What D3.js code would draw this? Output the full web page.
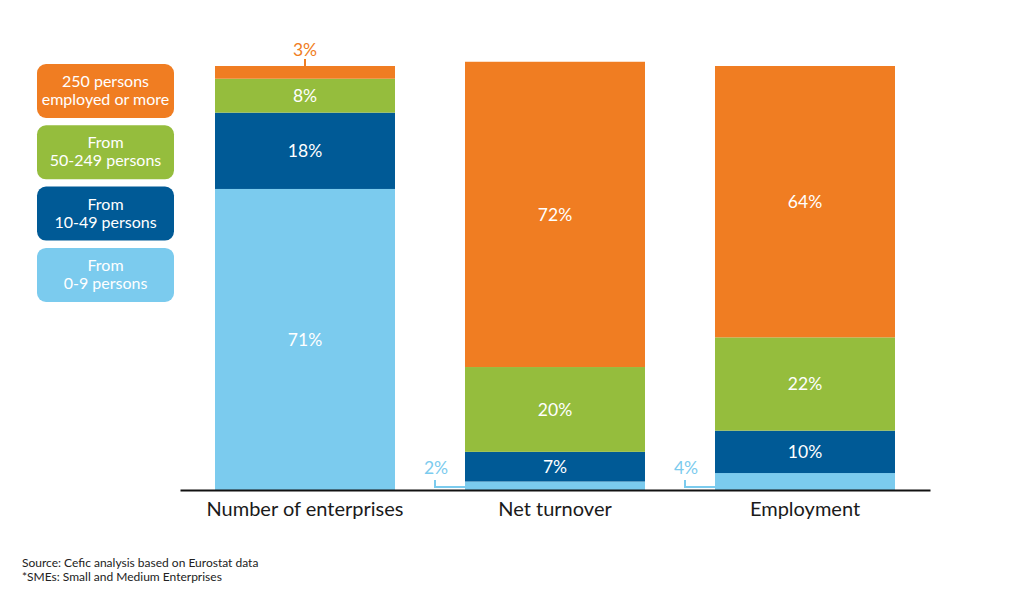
<!DOCTYPE html>
<html>
<head>
<meta charset="utf-8">
<script src="https://cdn.jsdelivr.net/npm/d3@7"></script>
<style>
  body { margin: 0; background: #fff; }
  svg { font-family: Lato, "Open Sans", sans-serif; }
</style>
</head>
<body>
<svg id="chart" width="1024" height="605"></svg>
<script>
// data
var categories = ["Number of enterprises", "Net turnover", "Employment"];
var sizeClasses = ["0-9", "10-49", "50-249", "250+"];
var micro = [71, 2, 4];
var small = [18, 7, 10];
var medium = [8, 20, 22];
var large = [3, 72, 64];
var legendLabels = [
    ["250 persons", "employed or more"],
    ["From", "50-249 persons"],
    ["From", "10-49 persons"],
    ["From", "0-9 persons"]
];
var notes = ["Source: Cefic analysis based on Eurostat data", "*SMEs: Small and Medium Enterprises"];

var colors = { "0-9": "#7bcbee", "10-49": "#005a96", "50-249": "#95bd3d", "250+": "#f07d22" };

var svg = d3.select("#chart");
var baseY = 490;

var x = d3.scaleBand()
    .domain(categories)
    .range([180, 930])
    .paddingInner(0.28)
    .paddingOuter(0.14);

var y = d3.scaleLinear()
    .domain([0, 100])
    .range([baseY, 66]);

// build rows for the stack
var rows = categories.map(function (c, i) {
    return { cat: c, "0-9": micro[i], "10-49": small[i], "50-249": medium[i], "250+": large[i] };
});
var series = d3.stack().keys(sizeClasses)(rows);

var layers = svg.append("g").selectAll("g")
    .data(series)
    .join("g")
    .attr("fill", function (d) { return colors[d.key]; });

layers.selectAll("rect")
    .data(function (d) { return d; })
    .join("rect")
    .attr("x", function (d) { return x(d.data.cat); })
    .attr("y", function (d) { return y(d[1]); })
    .attr("width", x.bandwidth())
    .attr("height", function (d) { return y(d[0]) - y(d[1]); });

// value labels: inside when the segment is tall enough, else outside with a leader
series.forEach(function (s) {
    s.forEach(function (d) {
        var v = d[1] - d[0];
        var cx = x(d.data.cat) + x.bandwidth() / 2;
        var h = y(d[0]) - y(d[1]);
        if (h > 20) {
            svg.append("text")
                .attr("x", cx)
                .attr("y", (y(d[0]) + y(d[1])) / 2)
                .attr("dy", "0.35em")
                .attr("text-anchor", "middle")
                .attr("fill", "#fff")
                .attr("font-size", 17.5)
                .text(v + "%");
        } else if (s.key === "250+") {
            // above the bar
            svg.append("line")
                .attr("x1", cx).attr("x2", cx)
                .attr("y1", y(d[1]) - 7).attr("y2", y(d[1]))
                .attr("stroke", colors[s.key]).attr("stroke-width", 2);
            svg.append("text")
                .attr("x", cx)
                .attr("y", y(d[1]) - 10)
                .attr("text-anchor", "middle")
                .attr("fill", colors[s.key])
                .attr("font-size", 17.5)
                .text(v + "%");
        } else {
            // left of the bar, bracket leader
            var bx = x(d.data.cat);
            var lx = bx - 30;
            var ly = baseY - 3;
            svg.append("path")
                .attr("d", "M" + lx + "," + (ly - 7) + "V" + ly + "H" + bx)
                .attr("fill", "none")
                .attr("stroke", colors[s.key]).attr("stroke-width", 2);
            svg.append("text")
                .attr("x", lx + 1)
                .attr("y", 474)
                .attr("text-anchor", "middle")
                .attr("fill", colors[s.key])
                .attr("font-size", 17.5)
                .text(v + "%");
        }
    });
});

// axis
var xAxis = d3.axisBottom(x).tickSize(0).tickPadding(12);
var gx = svg.append("g")
    .attr("transform", "translate(0," + baseY + ")")
    .call(xAxis);
gx.select(".domain").attr("stroke", "#111").attr("stroke-width", 2);
gx.selectAll("text")
    .attr("font-size", 20)
    .attr("font-family", "Lato, sans-serif")
    .attr("fill", "#1a1a1a");

// legend
var legendKeys = ["250+", "50-249", "10-49", "0-9"];
var lg = svg.append("g").selectAll("g")
    .data(legendKeys)
    .join("g")
    .attr("transform", function (d, i) { return "translate(37," + (64 + i * 61.3) + ")"; });

lg.append("rect")
    .attr("width", 137)
    .attr("height", 54)
    .attr("rx", 9)
    .attr("fill", function (d) { return colors[d]; });

lg.each(function (d, i) {
    var t = d3.select(this).append("text")
        .attr("text-anchor", "middle")
        .attr("fill", "#fff")
        .attr("font-size", 16);
    legendLabels[i].forEach(function (line, j) {
        t.append("tspan")
            .attr("x", 68.5)
            .attr("y", 23 + j * 18)
            .text(line);
    });
});

// notes
svg.append("g").selectAll("text")
    .data(notes)
    .join("text")
    .attr("x", 22)
    .attr("y", function (d, i) { return 567 + i * 14; })
    .attr("font-size", 12)
    .attr("fill", "#222")
    .text(function (d) { return d; });
</script>
</body>
</html>
